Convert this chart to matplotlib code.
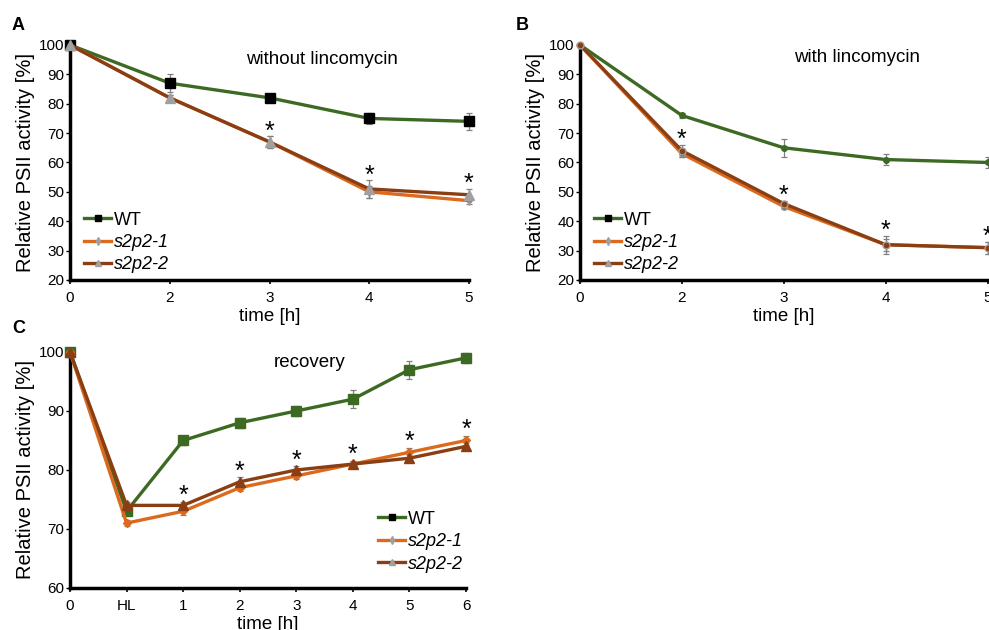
import matplotlib.pyplot as plt
from matplotlib.lines import Line2D
import numpy as np

plt.rcParams['font.family'] = ['Liberation Sans', 'DejaVu Sans']

# panel A: without lincomycin
a_labels = ['0', '2', '3', '4', '5']
a_wt = [100, 87, 82, 75, 74]
a_wt_err = [0, 3, 1, 2, 3]
a_s1 = [100, 82, 67, 50, 47]
a_s1_err = [0, 1, 2, 2, 1]
a_s2 = [100, 82, 67, 51, 49]
a_s2_err = [0, 1, 2, 3, 2]
a_star = [False, False, True, True, True]

# panel B: with lincomycin
b_labels = ['0', '2', '3', '4', '5']
b_wt = [100, 76, 65, 61, 60]
b_wt_err = [0, 1, 3, 2, 2]
b_s1 = [100, 63, 45, 32, 31]
b_s1_err = [0, 1, 1, 2, 2]
b_s2 = [100, 64, 46, 32, 31]
b_s2_err = [0, 2, 1, 3, 2]
b_star = [False, True, True, True, True]

# panel C: recovery
c_labels = ['0', 'HL', '1', '2', '3', '4', '5', '6']
c_wt = [100, 73, 85, 88, 90, 92, 97, 99]
c_wt_err = [0, 0.5, 0.8, 0.8, 0.8, 1.5, 1.5, 0.8]
c_s1 = [100, 71, 73, 77, 79, 81, 83, 85]
c_s1_err = [0, 0.5, 0.6, 0.5, 0.5, 0.6, 0.8, 0.8]
c_s2 = [100, 74, 74, 78, 80, 81, 82, 84]
c_s2_err = [0, 0.5, 0.6, 0.8, 0.6, 0.6, 0.5, 0.5]
c_star = [False, False, True, True, True, True, True, True]

GREEN = '#3c6a22'
ORANGE = '#dc6a1e'
BROWN = '#8a3e14'
GRAY = '#a0a0a0'


def series(ax, x, y, err, color, marker, ms, mfc, mec, z):
    ax.errorbar(x, y, yerr=err, color=color, lw=2.4, marker=marker, ms=ms,
                mfc=mfc, mec=mec, ecolor='#808080', elinewidth=0.9,
                capsize=2.5, capthick=0.9, zorder=z, clip_on=False)


def style_axes(ax, labels, ylim, yticks):
    x = np.arange(len(labels))
    ax.set_xlim(0, len(labels) - 1)
    ax.set_ylim(*ylim)
    ax.set_xticks(x)
    ax.set_xticklabels(labels, fontsize=11)
    ax.set_yticks(yticks)
    ax.tick_params(axis='y', labelsize=11, length=3, width=1, pad=1)
    ax.tick_params(axis='x', length=3, width=1.2, pad=5)
    for s in ['top', 'right']:
        ax.spines[s].set_visible(False)
    for s in ['left', 'bottom']:
        ax.spines[s].set_linewidth(2.5)
    ax.set_xlabel('time [h]', fontsize=13.5, labelpad=2)
    ax.set_ylabel('Relative PSII activity [%]', fontsize=14.5, labelpad=3)


def stars(ax, ys, errs, flags, off):
    for i, (y, e, f) in enumerate(zip(ys, errs, flags)):
        if f:
            ax.text(i, y + e + off, '*', ha='center', va='bottom',
                    fontsize=18, clip_on=False)


def legend(ax, loc, anchor, s1_marker='d', s2_marker='^', wt_mfc='black',
           s1_mfc=GRAY, s2_mfc=GRAY):
    handles = [
        Line2D([], [], color=GREEN, lw=2.4, marker='s', ms=5, mfc=wt_mfc, mec=wt_mfc),
        Line2D([], [], color=ORANGE, lw=2.4, marker=s1_marker, ms=4, mfc=s1_mfc, mec=s1_mfc),
        Line2D([], [], color=BROWN, lw=2.4, marker=s2_marker, ms=5, mfc=s2_mfc, mec=s2_mfc),
    ]
    labs = ['WT', 's2p2-1', 's2p2-2']
    leg = ax.legend(handles, labs, loc=loc, bbox_to_anchor=anchor, frameon=False,
                    fontsize=13, handlelength=1.5, handletextpad=0.15,
                    labelspacing=0.3, borderaxespad=0, borderpad=0)
    for t in leg.get_texts()[1:]:
        t.set_style('italic')


fig = plt.figure(figsize=(9.89, 6.30), dpi=100)

# A
ax = fig.add_axes([0.0708, 0.5556, 0.4034, 0.373])
x = np.arange(len(a_labels))
series(ax, x, a_wt, a_wt_err, GREEN, 's', 7.5, 'black', 'black', 3)
series(ax, x, a_s1, a_s1_err, ORANGE, 'd', 4, GRAY, GRAY, 4)
series(ax, x, a_s2, a_s2_err, BROWN, '^', 6.5, GRAY, GRAY, 5)
style_axes(ax, a_labels, (20, 100), range(20, 101, 10))
stars(ax, [max(p, q) for p, q in zip(a_s1, a_s2)],
      [max(p, q) for p, q in zip(a_s1_err, a_s2_err)], a_star, -2.5)
ax.text(0.632, 0.975, 'without lincomycin', transform=ax.transAxes, ha='center',
        va='top', fontsize=13.5)
legend(ax, 'lower left', (0.035, 0.028))
fig.text(0.012, 0.952, 'A', fontsize=13, fontweight='bold')

# B
ax = fig.add_axes([0.5865, 0.5556, 0.412, 0.373])
x = np.arange(len(b_labels))
series(ax, x, b_wt, b_wt_err, GREEN, 'o', 4, GREEN, GREEN, 3)
series(ax, x, b_s1, b_s1_err, ORANGE, 'o', 4, BROWN, GRAY, 4)
series(ax, x, b_s2, b_s2_err, BROWN, 'o', 5, BROWN, GRAY, 5)
style_axes(ax, b_labels, (20, 100), range(20, 101, 10))
stars(ax, [max(p, q) for p, q in zip(b_s1, b_s2)],
      [max(p, q) for p, q in zip(b_s1_err, b_s2_err)], b_star, -2.5)
ax.text(0.68, 0.985, 'with lincomycin', transform=ax.transAxes, ha='center',
        va='top', fontsize=13.5)
legend(ax, 'lower left', (0.035, 0.028))
fig.text(0.521, 0.952, 'B', fontsize=13, fontweight='bold')

# C
ax = fig.add_axes([0.0708, 0.0667, 0.4004, 0.3746])
x = np.arange(len(c_labels))
series(ax, x, c_wt, c_wt_err, GREEN, 's', 7, GREEN, GREEN, 3)
series(ax, x, c_s1, c_s1_err, ORANGE, 'D', 4.5, ORANGE, ORANGE, 4)
series(ax, x, c_s2, c_s2_err, BROWN, '^', 7, BROWN, BROWN, 5)
style_axes(ax, c_labels, (60, 100), range(60, 101, 10))
stars(ax, [max(p, q) for p, q in zip(c_s1, c_s2)],
      [max(p, q) for p, q in zip(c_s1_err, c_s2_err)], c_star, -1.1)
ax.text(0.606, 0.99, 'recovery', transform=ax.transAxes, ha='center',
        va='top', fontsize=13.5)
legend(ax, 'lower left', (0.778, 0.065))
fig.text(0.012, 0.472, 'C', fontsize=13, fontweight='bold')

fig.savefig('out.png', dpi=100)
